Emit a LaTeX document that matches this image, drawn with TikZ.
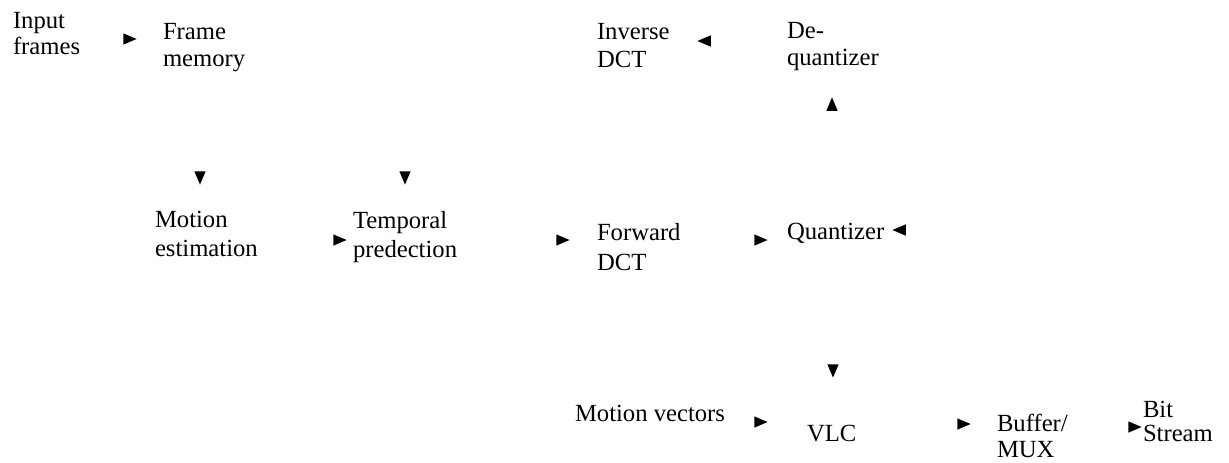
\documentclass[tikz,border=0pt]{standalone}
\usepackage{fontspec}
\setmainfont{Liberation Serif}
\usetikzlibrary{shapes.geometric}
\begin{document}
\begin{tikzpicture}[x=0.75pt,y=-0.75pt,
  lbl/.style={anchor=north west, inner sep=0pt, outer sep=0pt, align=left,
    font=\fontsize{18.5pt}{#1}\selectfont},
  lbl/.default=19.5pt,
  ahead/.style={isosceles triangle, isosceles triangle stretches, fill=black,
    draw=none, inner sep=0pt, outer sep=0pt, minimum width=8.5pt, minimum height=10pt}]
\useasboundingbox (0,0) rectangle (1229,462);
% labels
\node[lbl=19.5pt]  (in)  at (13,12.5)   {Input\\frames};
\node[lbl=20.25pt] (fm)  at (163,23)    {Frame\\memory};
\node[lbl=21pt]    (iv)  at (597,23.5)  {Inverse\\DCT};
\node[lbl=20.25pt] (dq)  at (787,22)    {De-\\quantizer};
\node[lbl=21.75pt] (me)  at (155,211.5) {Motion\\estimation};
\node[lbl=21.75pt] (tp)  at (353,211.5) {Temporal\\predection};
\node[lbl=22.5pt]  (fd)  at (597,223.5) {Forward\\DCT};
\node[lbl]         (qz)  at (787,223.5) {Quantizer};
\node[lbl]         (mv)  at (575,405.5) {Motion vectors};
\node[lbl]         (vlc) at (807,425.5) {VLC};
\node[lbl=19.5pt]  (bm)  at (997,414)   {Buffer/\\MUX};
\node[lbl=18pt]    (bs)  at (1143,401)  {Bit\\Stream};
% arrowheads (the connector lines are not shown in the picture)
\node[ahead]             (a1)  at (127,39)  {};
\node[ahead, rotate=-90] (a2)  at (200,175) {};
\node[ahead, rotate=-90] (a3)  at (405,175) {};
\node[ahead]             (a4)  at (337,240) {};
\node[ahead]             (a5)  at (560,240) {};
\node[ahead]             (a6)  at (758,240) {};
\node[ahead, rotate=180] (a7)  at (902,230) {};
\node[ahead, rotate=180] (a8)  at (707,41)  {};
\node[ahead, rotate=90]  (a9)  at (832,107) {};
\node[ahead, rotate=-90] (a10) at (833,368) {};
\node[ahead]             (a11) at (758,422) {};
\node[ahead]             (a12) at (961,424) {};
\node[ahead]             (a13) at (1132,427){};
\end{tikzpicture}
\end{document}
